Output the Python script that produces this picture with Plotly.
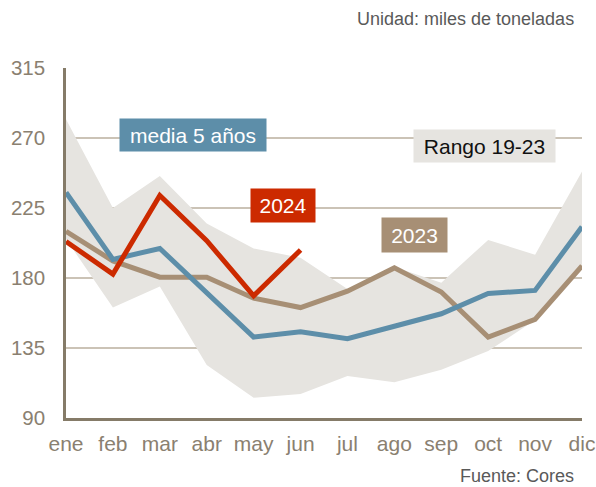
import plotly.graph_objects as go

months = ["ene", "feb", "mar", "abr", "may", "jun", "jul", "ago", "sep", "oct", "nov", "dic"]
media_5 = [235, 192, 199, 171, 142, 145.5, 141, 149, 157, 170, 172, 213]
y2023 = [210, 191, 180.5, 180.5, 167, 161, 171.5, 186.5, 171, 142, 153.4, 187.8]
y2024 = [203.5, 182.5, 233, 204, 168.5, 198]
range_hi = [282, 225, 245.5, 215, 199, 193, 173, 187, 177, 204.5, 195, 248.5]
range_lo = [205, 161, 174.5, 124, 103, 105.5, 117, 113, 121, 133, 153, 187.5]
y_ticks = [90, 135, 180, 225, 270, 315]

xi = list(range(len(months)))

BLUE = "#5d8ea9"
RED = "#cc2a00"
TAN = "#a78f75"
BAND = "#e6e4e0"
TICK = "#8a8070"
FONT = "Liberation Sans, Arial, sans-serif"

fig = go.Figure()
fig.add_trace(go.Scatter(x=xi, y=range_hi, mode="lines", line=dict(width=0, color=BAND),
                         hoverinfo="skip", showlegend=False))
fig.add_trace(go.Scatter(x=xi, y=range_lo, mode="lines", line=dict(width=0, color=BAND),
                         fill="tonexty", fillcolor=BAND, showlegend=False))
fig.add_trace(go.Scatter(x=xi, y=y2023, mode="lines", line=dict(width=5, color=TAN),
                         showlegend=False))
fig.add_trace(go.Scatter(x=xi, y=media_5, mode="lines", line=dict(width=5, color=BLUE),
                         showlegend=False))
fig.add_trace(go.Scatter(x=xi[:len(y2024)], y=y2024, mode="lines", line=dict(width=5, color=RED),
                         showlegend=False))

def box(text, x, y, w, h, bg, fc):
    return dict(text=text, x=x, y=y, xref="paper", yref="paper", xanchor="center",
                yanchor="middle", showarrow=False, bgcolor=bg, width=w, height=h,
                borderpad=0, font=dict(size=21, color=fc, family=FONT))

annotations = [
    box("media 5 años", 0.2461, 0.8098, 146, 32, BLUE, "white"),
    box("2024", 0.4205, 0.6068, 64, 33, RED, "white"),
    box("2023", 0.675, 0.5216, 65, 34, TAN, "white"),
    box("Rango 19-23", 0.811, 0.7784, 141, 32, BAND, "#111111"),
    dict(text="Unidad: miles de toneladas", x=0.9884, y=1.140, xref="paper", yref="paper",
         xanchor="right", yanchor="middle", showarrow=False,
         font=dict(size=18, color="#595959", family=FONT)),
    dict(text="Fuente: Cores", x=0.9884, y=-0.1659, xref="paper", yref="paper",
         xanchor="right", yanchor="middle", showarrow=False,
         font=dict(size=18, color="#595959", family=FONT)),
]

fig.update_layout(
    width=596, height=487, autosize=False,
    margin=dict(l=66, r=14, t=68, b=69, autoexpand=False),
    paper_bgcolor="white", plot_bgcolor="white",
    font=dict(family=FONT),
    annotations=annotations,
    xaxis=dict(range=[0, 11], tickvals=xi, ticktext=months, showgrid=False,
               showline=True, linecolor="#857b68", linewidth=2.5, zeroline=False,
               tickfont=dict(size=21, color=TICK), ticks="", ticklabelstandoff=5,
               automargin=False),
    yaxis=dict(range=[90, 315], tickvals=y_ticks, showgrid=True, gridcolor="#cbc3b6",
               gridwidth=1.5, showline=True, linecolor="#857b68", linewidth=2.5,
               zeroline=False, tickfont=dict(size=20.5, color=TICK), ticks="",
               ticklabelstandoff=14, automargin=False),
)

fig.write_html("out.html", config=dict(displayModeBar=False),
               post_script="document.body.style.margin='0';")
